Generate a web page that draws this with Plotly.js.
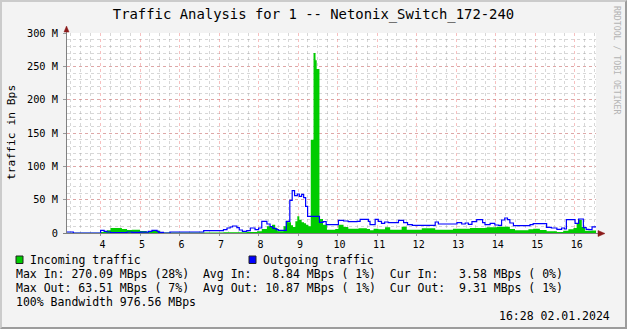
<!DOCTYPE html>
<html><head><meta charset="utf-8">
<script src="https://cdn.plot.ly/plotly-3.0.1.min.js"></script>
<style>
html,body{margin:0;padding:0;background:#f3f3f3;}
#wrap{position:relative;width:627px;height:329px;overflow:hidden}
#frame{position:absolute;left:0;top:0;width:627px;height:329px;box-sizing:border-box;border-top:2px solid #cbcbcb;border-left:2px solid #cbcbcb;border-right:2px solid #9c9c9c;border-bottom:2px solid #9c9c9c;pointer-events:none}
</style>
</head><body><div id="wrap"><div id="chart"></div><div id="frame"></div></div>
<script>
// ---- data (hours of day, MBps) ----
const inTime = [3.15,4.00,4.16,4.25,4.54,4.67,4.79,5.00,5.17,5.30,5.51,7.11,7.70,7.96,8.08,8.21,8.34,8.42,8.48,8.63,8.69,8.74,8.82,8.87,8.93,8.98,9.03,9.09,9.15,9.20,9.26,9.32,9.39,9.44,9.47,9.54,9.63,9.73,9.94,10.02,10.15,10.27,10.53,10.74,10.82,10.91,11.03,11.20,11.33,11.62,11.75,12.13,12.47,12.92,13.35,13.77,14.03,14.36,14.49,14.83,14.95,15.12,15.29,15.55,15.71,15.84,15.97,16.05,16.09,16.18,16.26,16.43,16.54];
const inVal  = [0.3,1.5,4,7.5,6,4.5,5,3,1.5,3.5,0.7,1.2,1.5,2.5,6,10,12.5,7.5,2.5,10,17.5,16,11.5,9,17.5,25,20,16,14.5,12.5,10,140,270.09,259,246,21,12.5,5,6,12.5,9,6.5,7,6,4,6.5,5.5,8.5,5,9.5,5,7,5,6.5,7.5,8.5,9.5,6,4,5.5,6.5,4.5,2.5,1.5,3.5,5.5,7.5,15,20,9,3.5,3.58,3.58];
const outTime = [3.15,3.31,4.00,4.09,4.16,4.25,4.67,4.79,5.00,5.21,5.30,5.43,5.47,5.59,5.76,6.61,7.11,7.20,7.28,7.34,7.45,7.51,7.59,7.70,7.79,7.91,8.00,8.08,8.21,8.29,8.36,8.44,8.50,8.70,8.79,8.85,8.91,8.98,9.03,9.09,9.14,9.19,9.24,9.54,9.63,9.71,10.02,10.15,10.27,10.49,10.57,10.78,10.82,10.95,11.03,11.11,11.19,11.28,11.54,11.67,11.77,11.89,12.47,12.55,13.02,13.14,13.23,13.31,13.40,13.52,13.67,13.73,13.86,13.98,14.07,14.15,14.23,14.30,14.36,14.45,14.87,14.95,15.29,15.41,15.55,15.67,15.74,15.79,16.01,16.10,16.22,16.29,16.36,16.44,16.54];
const outVal  = [1.5,0,4,2.5,1.5,0.6,1.5,1,1.2,2.5,4,2.5,1,0,1.5,3.5,5,7.5,9,10.5,8,4.5,2.5,3.5,7.5,5,7.5,17.5,13.5,9.5,7,5,4,17.5,49,63.51,56,58.5,55,58,53,40,25,16,17,12.5,19,18,17,17.5,20.5,17.5,12.5,20.5,17.5,14.5,16.5,15.5,19,15.5,12.5,11.5,16.5,13.5,15.5,13.5,15,13,17,20,15.5,12.5,14.5,12,11.5,19.5,22.5,20,15,11,12.5,14,8.5,7.5,5.5,7.5,6,20,14.5,21,8,5.5,5,9.31,9.31];
const yTickVals = [0,50,100,150,200,250,300];
const yTickText = ['0','50 M','100 M','150 M','200 M','250 M','300 M'];
const seriesNames = ['Incoming traffic','Outgoing traffic'];
const statLines = [
  'Max In: 270.09 MBps (28%)  Avg In:   8.84 MBps ( 1%)  Cur In:   3.58 MBps ( 0%)',
  'Max Out: 63.51 MBps ( 7%)  Avg Out: 10.87 MBps ( 1%)  Cur Out:  9.31 MBps ( 1%)',
  '100% Bandwidth 976.56 MBps'
];
const stamp = '16:28 02.01.2024';
const titleText = 'Traffic Analysis for 1 -- Netonix_Switch_172-240';
const yTitle = 'traffic in Bps';
const watermark = 'RRDTOOL / TOBI OETIKER';

// ---- layout helpers (pixel -> paper) ----
const L=67, T=33, W=529, H=200;
const px = x => (x-L)/W;
const py = y => (T+H-y)/H;
const nb = s => s.replace(/ /g,'\u00a0');
const MONO = 'DejaVu Sans Mono';
const GREEN='#00cc00', BLUE='#0000ff', ARROW='#8b1a1a';

const traces = [
  {x: inTime, y: inVal, type:'scatter', mode:'lines', line:{shape:'hv', width:0, color:GREEN},
   fill:'tozeroy', fillcolor:GREEN, name:seriesNames[0], hoverinfo:'skip'},
  {x: outTime, y: outVal, type:'scatter', mode:'lines', line:{shape:'hv', width:1.2, color:BLUE},
   name:seriesNames[1], hoverinfo:'skip'}
];

const gridMajor = 'rgba(235,90,90,0.38)';
const gridMinor = 'rgba(150,150,150,0.38)';

const annotations = [
  {text: nb(seriesNames[0]), x:px(29), y:py(259.5), xanchor:'left', yanchor:'middle'},
  {text: nb(seriesNames[1]), x:px(262), y:py(259.5), xanchor:'left', yanchor:'middle'},
  {text: nb(statLines[0]), x:px(15), y:py(273.5), xanchor:'left', yanchor:'middle'},
  {text: nb(statLines[1]), x:px(15), y:py(287.5), xanchor:'left', yanchor:'middle'},
  {text: nb(statLines[2]), x:px(15), y:py(301.5), xanchor:'left', yanchor:'middle'},
  {text: nb(stamp), x:px(611), y:py(315.5), xanchor:'right', yanchor:'middle'},
  {text: nb(yTitle), x:px(11), y:py(133), xanchor:'center', yanchor:'middle', textangle:-90, font:{family:MONO,size:11.3,color:'#000'}},
  {text: nb(watermark), x:px(617), y:py(60), xanchor:'center', yanchor:'middle', textangle:90, font:{family:MONO,size:8.2,color:'#b4b4b4'}}
].map(a => Object.assign({xref:'paper', yref:'paper', showarrow:false, borderpad:0, font:{family:MONO,size:11.5,color:'#000'}}, a));

const shapes = [
  // y axis extension + arrow
  {type:'line', xref:'paper', yref:'paper', x0:px(66.5), x1:px(66.5), y0:py(233), y1:py(31), line:{color:'#808080', width:1}},
  {type:'path', xref:'paper', yref:'paper', path:`M ${px(64)},${py(32)} L ${px(69)},${py(32)} L ${px(66.5)},${py(26)} Z`, fillcolor:ARROW, line:{color:ARROW, width:0.5}},
  // x axis extension + arrow
  {type:'line', xref:'paper', yref:'paper', x0:px(63), x1:px(599), y0:py(233.5), y1:py(233.5), line:{color:'#808080', width:1}},
  {type:'path', xref:'paper', yref:'paper', path:`M ${px(598)},${py(230.5)} L ${px(598)},${py(236.5)} L ${px(605)},${py(233.5)} Z`, fillcolor:ARROW, line:{color:ARROW, width:0.5}},
  // legend swatches
  {type:'rect', xref:'paper', yref:'paper', x0:px(16), x1:px(23), y0:py(256), y1:py(263.5), fillcolor:GREEN, line:{color:'#222', width:1}},
  {type:'rect', xref:'paper', yref:'paper', x0:px(249), x1:px(256), y0:py(256), y1:py(263.5), fillcolor:BLUE, line:{color:'#222', width:1}}
];

const layout = {
  width:627, height:329,
  margin:{l:L, r:627-L-W, t:T, b:329-T-H, pad:0},
  paper_bgcolor:'#f3f3f3', plot_bgcolor:'#ffffff',
  showlegend:false,
  title:{text:titleText, font:{family:MONO, size:13.9, color:'#000'}, x:0.5, xref:'container', xanchor:'center', y:1-14/329, yref:'container', yanchor:'middle'},
  xaxis:{range:[3.15,16.54], tickmode:'linear', tick0:0, dtick:1,
    showgrid:true, gridcolor:gridMajor, griddash:'dot', gridwidth:1,
    minor:{tickmode:'linear', tick0:0, dtick:0.25, showgrid:true, gridcolor:gridMinor, griddash:'dot', gridwidth:1, ticks:''},
    zeroline:false, showline:false, ticks:'outside', ticklen:2, tickcolor:'#999', ticklabelshift:2,
    tickfont:{family:MONO, size:10, color:'#000'}, fixedrange:true},
  yaxis:{range:[0,300], tickmode:'array', tickvals:yTickVals, ticktext:yTickText,
    showgrid:true, gridcolor:gridMajor, griddash:'dot', gridwidth:1,
    minor:{tickmode:'linear', tick0:0, dtick:10, showgrid:true, gridcolor:gridMinor, griddash:'dot', gridwidth:1, ticks:''},
    zeroline:false, showline:false, ticks:'outside', ticklen:3, tickcolor:'#999', ticklabelstandoff:3,
    tickfont:{family:MONO, size:10.3, color:'#000'}, fixedrange:true},
  annotations: annotations,
  shapes: shapes
};

Plotly.newPlot('chart', traces, layout, {displayModeBar:false, staticPlot:true});
</script></body></html>
